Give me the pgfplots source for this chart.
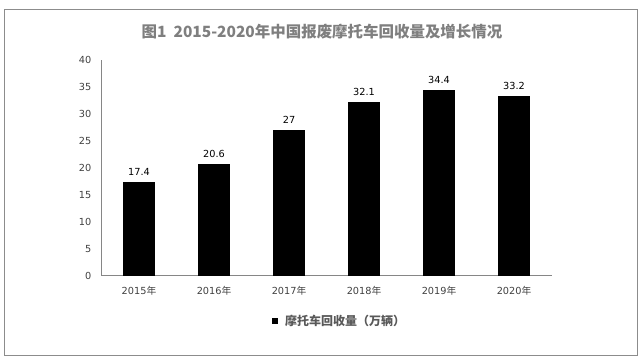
\documentclass[border=0pt]{standalone}
\usepackage{pgfplots}
\pgfplotsset{compat=1.18}
\usepackage{fontspec}
\setmainfont{DejaVu Sans}
\newfontfamily\cjk{Noto Sans CJK SC}
\definecolor{axisgray}{HTML}{868686}
\definecolor{framegray}{HTML}{8C8C8C}
\definecolor{titlegray}{HTML}{7F7F7F}
\definecolor{ticktext}{HTML}{404040}
\definecolor{legtext}{HTML}{595959}
\begin{document}
\begin{tikzpicture}
\path (0,0) rectangle (480.75pt,272.25pt);
\draw[framegray, line width=0.75pt] (3pt,5.25pt) rectangle (477.75pt,264.75pt);
\node[font=\cjk\bfseries\fontsize{11.6}{13}\selectfont, text=titlegray] at (241.5pt,248.25pt) {图1\ \ 2015-2020年中国报废摩托车回收量及增长情况};
\begin{axis}[
  at={(76.125pt,65.25pt)}, anchor=south west,
  scale only axis, width=337.5pt, height=162pt,
  ybar, bar width=23.25pt,
  xmin=-0.5, xmax=5.5, ymin=0, ymax=40,
  ytick={0,5,...,40},
  xtick={0,1,2,3,4,5},
  xticklabels={2015{\cjk 年},2016{\cjk 年},2017{\cjk 年},2018{\cjk 年},2019{\cjk 年},2020{\cjk 年}},
  axis lines=left,
  axis line style={-, draw=axisgray, line width=0.75pt},
  major tick length=0pt,
  /pgf/number format/assume math mode=true,
  tick label style={font=\fontsize{7.3}{8}\selectfont, text=ticktext},
  yticklabel style={inner sep=0pt, xshift=-7.5pt},
  xticklabel style={yshift=-4pt},
  nodes near coords,
  nodes near coords style={font=\fontsize{7.3}{8}\selectfont, text=black, anchor=south, inner sep=0pt, yshift=5pt},
  legend style={at={(0.53,-0.208)}, anchor=center, draw=none, fill=none,
    font=\cjk\bfseries\fontsize{9}{10}\selectfont, text=legtext, inner sep=0pt},
  legend image code/.code={\path[draw=none,fill=none] (0pt,0pt) -- (7.5pt,0pt); \fill[black,draw=none] (0pt,-2.25pt) rectangle (4.5pt,2.25pt);},
  legend cell align=left,
]
\addplot[fill=black, draw=black] coordinates {(0,17.4) (1,20.6) (2,27) (3,32.1) (4,34.4) (5,33.2)};
\addlegendentry{摩托车回收量（万辆）}
\end{axis}
\end{tikzpicture}
\end{document}
